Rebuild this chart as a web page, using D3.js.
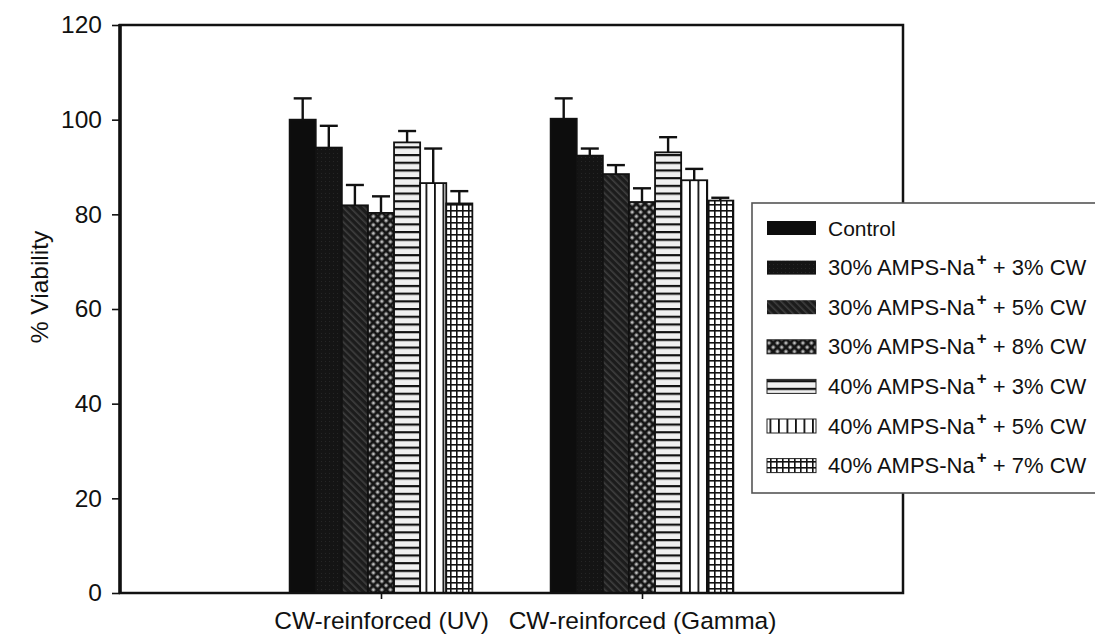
<!DOCTYPE html>
<html>
<head>
<meta charset="utf-8">
<script src="https://cdn.jsdelivr.net/npm/d3@7"></script>
<style>
  html, body { margin: 0; padding: 0; background: #fff; }
  svg { display: block; font-family: "Liberation Sans", Arial, sans-serif; }
</style>
</head>
<body>
<svg id="chart" width="1095" height="639"></svg>
<script>
// Group labels along the x axis
const categories = ["CW-reinforced (UV)", "CW-reinforced (Gamma)"];

// Formulations (legend order); each label is split around the superscript "+"
const seriesNames = [
  ["Control"],
  ["30% AMPS-Na", "+", " + 3% CW"],
  ["30% AMPS-Na", "+", " + 5% CW"],
  ["30% AMPS-Na", "+", " + 8% CW"],
  ["40% AMPS-Na", "+", " + 3% CW"],
  ["40% AMPS-Na", "+", " + 5% CW"],
  ["40% AMPS-Na", "+", " + 7% CW"]
];

// Mean % viability and upper error (SD) per formulation
const uvMeans     = [100.0, 94.1, 81.9, 80.3, 95.2, 86.6, 82.3];
const uvErrors    = [4.5, 4.6, 4.3, 3.5, 2.4, 7.3, 2.6];
const gammaMeans  = [100.2, 92.4, 88.5, 82.6, 93.1, 87.2, 82.9];
const gammaErrors = [4.3, 1.5, 1.9, 2.9, 3.2, 2.4, 0.6];

const yTicks = [0, 20, 40, 60, 80, 100, 120];

const groups = [
  { means: uvMeans, errors: uvErrors },
  { means: gammaMeans, errors: gammaErrors }
];

const svg = d3.select("#chart");
const FONT = 24.5;

// Category positions on a numeric scale: groups sit at 0 and 1
const x = d3.scaleLinear().domain([-1, 2]).range([120, 903]);
const y = d3.scaleLinear().domain([0, 120]).range([593, 25]);
const barW = 0.1;

// ---- fill patterns ----
const defs = svg.append("defs");

// 3% CW: near-solid black with a faint texture
const p1 = defs.append("pattern").attr("id", "pDark").attr("patternUnits", "userSpaceOnUse")
  .attr("width", 4).attr("height", 4);
p1.append("rect").attr("width", 4).attr("height", 4).attr("fill", "#141414");
p1.append("rect").attr("x", 1).attr("y", 1).attr("width", 1).attr("height", 1).attr("fill", "#262626");

// 5% CW: dark diagonal hatch
const p2 = defs.append("pattern").attr("id", "pDiag").attr("patternUnits", "userSpaceOnUse")
  .attr("width", 5).attr("height", 5).attr("patternTransform", "rotate(-45)");
p2.append("rect").attr("width", 5).attr("height", 5).attr("fill", "#1c1c1c");
p2.append("rect").attr("x", 0).attr("y", 0).attr("width", 1.6).attr("height", 5).attr("fill", "#3e3e3e");

// 8% CW: diamond check (grey dots on black)
const p3 = defs.append("pattern").attr("id", "pCheck").attr("patternUnits", "userSpaceOnUse")
  .attr("width", 6).attr("height", 6).attr("patternTransform", "rotate(45)");
p3.append("rect").attr("width", 6).attr("height", 6).attr("fill", "#151515");
p3.append("rect").attr("x", 1.5).attr("y", 1.5).attr("width", 3).attr("height", 3).attr("fill", "#bdbdbd");

// 40% / 3% CW: horizontal lines
const p4 = defs.append("pattern").attr("id", "pHoriz").attr("patternUnits", "userSpaceOnUse")
  .attr("width", 8).attr("height", 7.7);
p4.append("rect").attr("width", 8).attr("height", 7.7).attr("fill", "#f0f0f0");
p4.append("rect").attr("x", 0).attr("y", 0).attr("width", 8).attr("height", 2.2).attr("fill", "#111");

// 40% / 5% CW: vertical lines
const p5 = defs.append("pattern").attr("id", "pVert").attr("patternUnits", "userSpaceOnUse")
  .attr("width", 8.5).attr("height", 8).attr("x", 0.5);
p5.append("rect").attr("width", 8.5).attr("height", 8).attr("fill", "#fff");
p5.append("rect").attr("x", 0).attr("y", 0).attr("width", 1.8).attr("height", 8).attr("fill", "#111");

// 40% / 7% CW: square grid
const p6 = defs.append("pattern").attr("id", "pGrid").attr("patternUnits", "userSpaceOnUse")
  .attr("width", 6).attr("height", 6);
p6.append("rect").attr("width", 6).attr("height", 6).attr("fill", "#fff");
p6.append("rect").attr("x", 0).attr("y", 0).attr("width", 1.6).attr("height", 6).attr("fill", "#111");
p6.append("rect").attr("x", 0).attr("y", 0).attr("width", 6).attr("height", 1.6).attr("fill", "#111");

const fills = ["#0d0d0d", "url(#pDark)", "url(#pDiag)", "url(#pCheck)", "url(#pHoriz)", "url(#pVert)", "url(#pGrid)"];

// ---- bars with upper error bars ----
const barData = [];
groups.forEach((g, gi) => {
  g.means.forEach((m, si) => {
    barData.push({ gi, si, mean: m, err: g.errors[si] });
  });
});
const left = d => d.gi + (d.si - 3.5) * barW;

// error bars first so bar tops overlap their lower end
const eb = svg.append("g").attr("stroke", "#111").attr("stroke-width", 2.4);
barData.forEach(d => {
  const cx = x(left(d) + barW / 2);
  eb.append("line").attr("x1", cx).attr("x2", cx)
    .attr("y1", y(d.mean)).attr("y2", y(d.mean + d.err));
  eb.append("line").attr("x1", cx - 9).attr("x2", cx + 9)
    .attr("y1", y(d.mean + d.err)).attr("y2", y(d.mean + d.err));
});

svg.append("g").selectAll("rect").data(barData).join("rect")
  .attr("x", d => x(left(d)))
  .attr("y", d => y(d.mean))
  .attr("width", d => x(left(d) + barW) - x(left(d)))
  .attr("height", d => y(0) - y(d.mean))
  .attr("fill", d => fills[d.si])
  .attr("stroke", "#111")
  .attr("stroke-width", 1.8);

// ---- frame ----
svg.append("rect")
  .attr("x", x(-1)).attr("y", y(120))
  .attr("width", x(2) - x(-1)).attr("height", y(0) - y(120))
  .attr("fill", "none").attr("stroke", "#111").attr("stroke-width", 2.5);
// heavier left axis
svg.append("line").attr("x1", x(-1)).attr("x2", x(-1)).attr("y1", y(120) - 1).attr("y2", y(0) + 1)
  .attr("stroke", "#111").attr("stroke-width", 3.5);

// ---- y axis ----
const yAxis = svg.append("g")
  .attr("transform", `translate(${x(-1)},0)`)
  .call(d3.axisLeft(y).tickValues(yTicks).tickSize(8).tickPadding(10).tickFormat(d3.format("d")));
yAxis.select(".domain").remove();
yAxis.selectAll(".tick line").attr("stroke", "#111").attr("stroke-width", 1.6);
yAxis.selectAll(".tick text").attr("font-size", FONT).attr("fill", "#111")
  .attr("font-family", "Liberation Sans, Arial, sans-serif");

svg.append("text")
  .attr("transform", `translate(39,${(y(0) + y(120)) / 2 - 22}) rotate(-90)`)
  .attr("text-anchor", "middle").attr("dominant-baseline", "central")
  .attr("font-size", FONT).attr("fill", "#111")
  .text("% Viability");

// ---- x axis ----
const xAxis = svg.append("g")
  .attr("transform", `translate(0,${y(0)})`)
  .call(d3.axisBottom(x).tickValues([0, 1]).tickSize(6).tickPadding(13)
    .tickFormat(i => categories[i]));
xAxis.select(".domain").remove();
xAxis.selectAll(".tick line").attr("stroke", "#111").attr("stroke-width", 1.6);
xAxis.selectAll(".tick text").attr("font-size", FONT).attr("fill", "#111")
  .attr("font-family", "Liberation Sans, Arial, sans-serif");

// ---- legend ----
const lg = svg.append("g").attr("transform", "translate(752,203)");
lg.append("rect").attr("x", 0).attr("y", 0).attr("width", 360).attr("height", 290)
  .attr("fill", "#fff").attr("stroke", "#555").attr("stroke-width", 1.6);

seriesNames.forEach((parts, i) => {
  const cy = 25 + i * 39.6;
  lg.append("rect").attr("x", 15).attr("y", cy - 7).attr("width", 49).attr("height", 14)
    .attr("fill", fills[i]).attr("stroke", i < 3 ? "none" : "#222").attr("stroke-width", 1);
  const t = lg.append("text").attr("x", 76).attr("y", cy + 7.5)
    .attr("font-size", 22).attr("fill", "#111");
  if (parts.length === 1) {
    t.attr("font-size", 21).text(parts[0]);
  } else {
    t.append("tspan").text(parts[0]);
    t.append("tspan").attr("dy", -10).attr("dx", 2).attr("font-size", 17).attr("font-weight", "bold").text(parts[1]);
    t.append("tspan").attr("dy", 10).text(parts[2]);
  }
});
</script>
</body>
</html>
